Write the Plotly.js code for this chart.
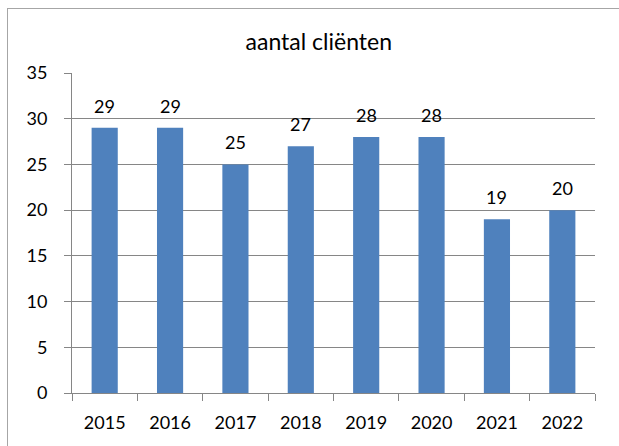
<!DOCTYPE html>
<html>
<head>
<meta charset="utf-8">
<script src="https://cdn.plot.ly/plotly-3.0.1.min.js"></script>
<style>
html,body{margin:0;padding:0;background:#fff;}
#frame{position:absolute;left:7px;top:8px;width:640px;height:460px;border-left:1px solid #a6a6a6;border-top:1px solid #a6a6a6;}
#chart{position:absolute;left:0;top:0;width:619px;height:446px;}
</style>
</head>
<body>
<div id="frame"></div>
<div id="chart"></div>
<script>
const years = ['2015','2016','2017','2018','2019','2020','2021','2022'];
const clients = [29, 29, 25, 27, 28, 28, 19, 20];
const yTicks = [0, 5, 10, 15, 20, 25, 30, 35];
const chartTitle = 'aantal cliënten';

const font = 'Lato, "Noto Sans", sans-serif';
const grey = '#868686';

const trace = {
  type: 'bar',
  x: years,
  y: clients,
  marker: {color: '#4F81BD'},
  hoverinfo: 'none'
};

const annotations = years.map((yr, i) => ({
  x: i, y: clients[i], xref: 'x', yref: 'y',
  text: String(clients[i]), showarrow: false,
  yanchor: 'bottom', yshift: 9,
  font: {family: font, size: 18, color: '#000'}
}));

const layout = {
  width: 619, height: 446,
  margin: {l: 72, r: 24, t: 73, b: 53},
  paper_bgcolor: 'rgba(0,0,0,0)',
  plot_bgcolor: 'rgba(0,0,0,0)',
  bargap: 0.6,
  showlegend: false,
  title: {text: chartTitle, x: 0.515, xanchor: 'center', y: 0.907, yanchor: 'middle',
          font: {family: font, size: 23, color: '#000'}},
  xaxis: {
    type: 'category', tickson: 'boundaries',
    range: [-0.5, years.length - 0.5],
    showline: true, linecolor: grey, linewidth: 1,
    ticks: 'outside', ticklen: 7, tickcolor: grey,
    showgrid: false, zeroline: false,
    ticklabelstandoff: 13,
    tickfont: {family: font, size: 18, color: '#000'}
  },
  yaxis: {
    range: [0, 35], tickvals: yTicks, ticktext: yTicks.map(String),
    showline: true, linecolor: grey, linewidth: 1,
    ticks: 'outside', ticklen: 7, tickcolor: grey,
    showgrid: true, gridcolor: grey, gridwidth: 1,
    zeroline: false,
    ticklabelstandoff: 13,
    tickfont: {family: font, size: 18, color: '#000'}
  },
  annotations: annotations
};

Plotly.newPlot('chart', [trace], layout, {staticPlot: true, displayModeBar: false});
</script>
</body>
</html>
